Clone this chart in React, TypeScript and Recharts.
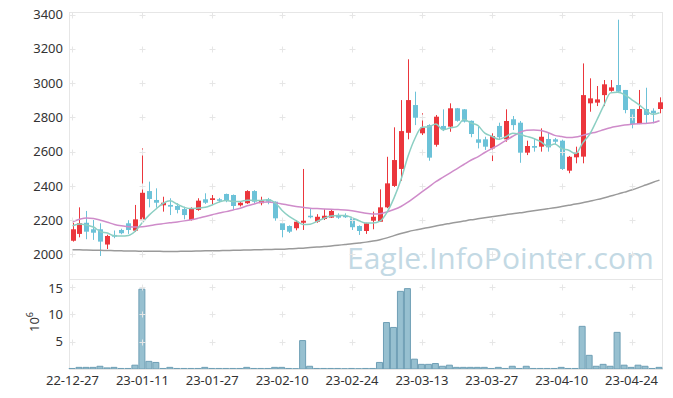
import { ComposedChart, Bar, Line, XAxis, YAxis, ReferenceDot } from 'recharts'

const dates = [
  '22-12-27', '22-12-28', '22-12-29', '23-01-02', '23-01-03', '23-01-04', '23-01-05', '23-01-06', '23-01-09', '23-01-10',
  '23-01-11', '23-01-12', '23-01-13', '23-01-16', '23-01-17', '23-01-18', '23-01-19', '23-01-20', '23-01-25', '23-01-26',
  '23-01-27', '23-01-30', '23-01-31', '23-02-01', '23-02-02', '23-02-03', '23-02-06', '23-02-07', '23-02-08', '23-02-09',
  '23-02-10', '23-02-13', '23-02-14', '23-02-15', '23-02-16', '23-02-17', '23-02-20', '23-02-21', '23-02-22', '23-02-23',
  '23-02-24', '23-02-27', '23-02-28', '23-03-02', '23-03-03', '23-03-06', '23-03-07', '23-03-08', '23-03-09', '23-03-10',
  '23-03-13', '23-03-14', '23-03-15', '23-03-16', '23-03-17', '23-03-20', '23-03-21', '23-03-22', '23-03-23', '23-03-24',
  '23-03-27', '23-03-28', '23-03-29', '23-03-30', '23-03-31', '23-04-03', '23-04-04', '23-04-05', '23-04-06', '23-04-07',
  '23-04-10', '23-04-11', '23-04-12', '23-04-13', '23-04-14', '23-04-17', '23-04-18', '23-04-19', '23-04-20', '23-04-21',
  '23-04-24', '23-04-25', '23-04-26', '23-04-27', '23-04-28',
]

const opens = [
  2080, 2120, 2185, 2147, 2147, 2058, 2114, 2143, 2182, 2139,
  2205, 2370, 2318, 2287, 2289, 2283, 2265, 2201, 2260, 2322,
  2318, 2322, 2353, 2347, 2287, 2299, 2370, 2299, 2322, 2308,
  2182, 2166, 2153, 2185, 2226, 2191, 2207, 2215, 2230, 2226,
  2211, 2166, 2137, 2197, 2191, 2275, 2400, 2499, 2710, 2872,
  2707, 2755, 2640, 2750, 2746, 2853, 2847, 2780, 2672, 2672,
  2619, 2750, 2672, 2789, 2769, 2594, 2633, 2629, 2674, 2672,
  2664, 2489, 2567, 2571, 2882, 2886, 2930, 2955, 2989, 2960,
  2849, 2761, 2849, 2839, 2849,
]
const highs = [
  2185, 2275, 2254, 2201, 2182, 2115, 2140, 2150, 2200, 2289,
  2619, 2425, 2386, 2337, 2328, 2299, 2279, 2275, 2328, 2357,
  2347, 2330, 2355, 2350, 2310, 2375, 2375, 2337, 2330, 2310,
  2201, 2170, 2201, 2499, 2270, 2235, 2264, 2260, 2240, 2240,
  2215, 2170, 2185, 2250, 2380, 2570, 2742, 2901, 3139, 2950,
  2824, 2760, 2814, 2847, 2882, 2855, 2849, 2782, 2746, 2687,
  2707, 2769, 2847, 2808, 2779, 2664, 2678, 2736, 2710, 2680,
  2670, 2575, 2629, 3115, 3028, 2983, 3018, 3018, 3370, 2960,
  2849, 2960, 2973, 2853, 2917,
]
const lows = [
  2075, 2100, 2089, 2085, 1991, 2032, 2095, 2118, 2120, 2131,
  2200, 2275, 2273, 2250, 2230, 2240, 2205, 2198, 2255, 2295,
  2289, 2305, 2305, 2260, 2280, 2295, 2300, 2287, 2293, 2197,
  2100, 2125, 2141, 2143, 2211, 2185, 2201, 2213, 2208, 2213,
  2143, 2114, 2120, 2147, 2191, 2270, 2394, 2430, 2672, 2755,
  2697, 2547, 2629, 2720, 2716, 2775, 2770, 2684, 2619, 2610,
  2545, 2668, 2658, 2726, 2535, 2580, 2600, 2600, 2600, 2645,
  2493, 2474, 2532, 2532, 2833, 2866, 2866, 2950, 2944, 2824,
  2736, 2761, 2765, 2765, 2824,
]
const closes = [
  2147, 2182, 2133, 2127, 2075, 2108, 2104, 2124, 2143, 2205,
  2360, 2324, 2302, 2302, 2279, 2260, 2230, 2270, 2314, 2302,
  2328, 2318, 2314, 2283, 2302, 2370, 2308, 2314, 2308, 2211,
  2143, 2133, 2191, 2197, 2222, 2220, 2226, 2254, 2215, 2222,
  2159, 2137, 2182, 2220, 2275, 2415, 2551, 2720, 2901, 2798,
  2740, 2565, 2804, 2730, 2853, 2780, 2775, 2703, 2652, 2629,
  2691, 2684, 2779, 2755, 2594, 2633, 2623, 2687, 2625, 2658,
  2499, 2570, 2594, 2930, 2911, 2905, 2993, 2975, 2950, 2843,
  2761, 2849, 2814, 2824, 2888,
]

// volume in millions of shares
const volumes = [
  0.1, 0.3, 0.3, 0.3, 0.5, 0.2, 0.3, 0.1, 0.1, 0.7,
  14.6, 1.4, 1.2, 0.1, 0.3, 0.1, 0.1, 0.1, 0.1, 0.3,
  0.1, 0.1, 0.1, 0.1, 0.1, 0.3, 0.1, 0.1, 0.1, 0.3,
  0.3, 0.1, 0.05, 5.2, 0.5, 0.1, 0.1, 0.1, 0.1, 0.05,
  0.1, 0.05, 0.1, 0.1, 1.2, 8.5, 7.6, 14.2, 14.7, 1.8,
  0.85, 0.85, 1.0, 0.5, 0.7, 0.3, 0.3, 0.3, 0.3, 0.3,
  0.1, 0.3, 0.1, 0.5, 0.1, 0.5, 0.1, 0.1, 0.1, 0.1,
  0.3, 0.1, 0.1, 7.8, 2.5, 0.5, 0.85, 0.5, 6.7, 0.7,
  0.3, 0.7, 0.5, 0.1, 0.3,
]

// moving averages
const ma5 = [
  2168, 2178, 2172, 2160, 2133, 2125, 2109, 2108, 2111, 2137,
  2187, 2231, 2267, 2299, 2313, 2293, 2275, 2268, 2271, 2275,
  2289, 2306, 2315, 2309, 2309, 2317, 2315, 2315, 2320, 2302,
  2257, 2222, 2197, 2175, 2177, 2193, 2211, 2224, 2227, 2227,
  2215, 2197, 2183, 2184, 2195, 2246, 2329, 2436, 2572, 2677,
  2742, 2745, 2762, 2727, 2738, 2746, 2788, 2768, 2753, 2708,
  2690, 2672, 2687, 2708, 2701, 2689, 2677, 2658, 2632, 2645,
  2618, 2608, 2589, 2650, 2701, 2782, 2867, 2943, 2947, 2933,
  2904, 2876, 2843, 2818, 2827,
]
const ma20 = [
  2191, 2205, 2213, 2210, 2200, 2188, 2175, 2167, 2162, 2160,
  2162, 2168, 2175, 2180, 2185, 2190, 2196, 2203, 2212, 2222,
  2232, 2242, 2250, 2260, 2270, 2284, 2295, 2305, 2306, 2302,
  2295, 2287, 2280, 2275, 2270, 2268, 2266, 2264, 2262, 2260,
  2255, 2248, 2240, 2236, 2238, 2248, 2262, 2280, 2305, 2335,
  2365, 2395, 2425, 2450, 2475, 2500, 2525, 2550, 2570, 2595,
  2618, 2640, 2665, 2690, 2712, 2725, 2726, 2724, 2712, 2695,
  2688, 2682, 2685, 2695, 2706, 2715, 2728, 2740, 2748, 2755,
  2760, 2763, 2765, 2768, 2780,
]
const ma120 = [
  2028, 2027, 2026, 2025, 2024, 2023, 2022, 2021, 2020, 2020,
  2019, 2019, 2019, 2018, 2018, 2018, 2019, 2019, 2020, 2021,
  2021, 2022, 2023, 2024, 2025, 2026, 2027, 2028, 2029, 2030,
  2031, 2033, 2035, 2037, 2040, 2043, 2046, 2050, 2054, 2058,
  2062, 2067, 2072, 2078, 2086, 2097, 2110, 2122, 2133, 2142,
  2150, 2158, 2166, 2174, 2181, 2188, 2195, 2202, 2208, 2214,
  2220, 2226, 2232, 2238, 2243, 2249, 2255, 2261, 2267, 2273,
  2280, 2287, 2294, 2302, 2311, 2320, 2330, 2341, 2352, 2364,
  2376, 2390, 2405, 2420, 2434,
]

const priceTicks = [2000, 2200, 2400, 2600, 2800, 3000, 3200, 3400]
const volumeTicks = [5, 10, 15]
const dateTicks = dates.filter((_, i) => i % 10 === 0)

const UP = '#eb363c'
const DOWN = '#6cc2d8'
const FONT = '"Noto Sans", sans-serif'

const rows = dates.map((date, i) => ({
  date,
  open: opens[i],
  high: highs[i],
  low: lows[i],
  close: closes[i],
  volume: volumes[i],
  ma5: ma5[i],
  ma20: ma20[i],
  ma120: ma120[i],
}))

const Candle = (props: any) => {
  const { x, y, width, height, payload } = props
  if (!payload) return null
  const { open, close, high, low } = payload
  const color = close >= open ? UP : DOWN
  const h = Math.abs(height)
  const top = Math.min(y, y + height)
  const ratio = h / (high - low || 1)
  const bodyTop = top + (high - Math.max(open, close)) * ratio
  const bodyH = Math.max(1.5, Math.abs(open - close) * ratio)
  const cx = Math.round(x + width / 2) + 0.5
  return (
    <g>
      <line x1={cx} x2={cx} y1={top} y2={top + h} stroke={color} strokeWidth={1} />
      <rect x={cx - 2.5} y={bodyTop} width={5} height={bodyH} fill={color} />
    </g>
  )
}

// faint "+" marks where the grid lines would cross
const Plus = (props: any) => {
  const { cx, cy } = props
  if (cx == null || cy == null) return null
  const px = Math.round(cx) + 0.5
  const py = Math.round(cy) + 0.5
  return (
    <path
      d={`M${px - 3},${py}H${px + 3}M${px},${py - 3}V${py + 3}`}
      stroke="#e6e6e6"
      strokeWidth={1}
      fill="none"
    />
  )
}

const tickStyle = { fontSize: 13, fill: '#333', fontFamily: FONT }

export default function App() {
  return (
    <div style={{ position: 'absolute', left: 0, top: 0, width: 673, height: 398, background: '#fff', overflow: 'hidden' }}>
      {/* panel frames */}
      <div style={{ position: 'absolute', left: 69, top: 12, width: 594, height: 268, border: '1px solid #e6e6e6', boxSizing: 'border-box' }} />
      <div style={{ position: 'absolute', left: 69, top: 279, width: 594, height: 91, border: '1px solid #e6e6e6', boxSizing: 'border-box' }} />
      {/* watermark */}
      <svg width={673} height={398} style={{ position: 'absolute', left: 0, top: 0 }}>
        <text x={347} y={269} fontSize={30} fontFamily='"Open Sans", sans-serif' fill="#c3d9e4">
          Eagle.InfoPointer.com
        </text>
      </svg>

      <div style={{ position: 'absolute', left: 0, top: 0 }}>
        <ComposedChart width={673} height={280} data={rows} margin={{ top: 12, right: 10, left: 0, bottom: 0 }}>
          <XAxis dataKey="date" hide />
          <YAxis
            domain={[1851, 3415]}
            ticks={priceTicks}
            allowDataOverflow
            width={69}
            axisLine={false}
            tickLine={false}
            tickSize={0}
            tickMargin={6}
            tick={tickStyle}
          />
          {dateTicks.map((d) =>
            priceTicks.map((p) => (
              <ReferenceDot key={`${d}-${p}`} x={d} y={p} r={3} shape={Plus} />
            ))
          )}
          <Bar dataKey={(d: any) => [d.low, d.high]} barSize={5} shape={Candle} isAnimationActive={false} />
          <Line type="monotone" dataKey="ma120" stroke="#9a9a9a" strokeWidth={1.5} dot={false} isAnimationActive={false} />
          <Line type="monotone" dataKey="ma20" stroke="#cf8cca" strokeWidth={1.5} dot={false} isAnimationActive={false} />
          <Line type="monotone" dataKey="ma5" stroke="#8ccfc3" strokeWidth={1.5} dot={false} isAnimationActive={false} />
        </ComposedChart>
      </div>

      <div style={{ position: 'absolute', left: 0, top: 280 }}>
        <ComposedChart width={673} height={118} data={rows} margin={{ top: 0, right: 10, left: 0, bottom: 0 }}>
          <XAxis
            dataKey="date"
            ticks={dateTicks}
            interval={0}
            height={29}
            axisLine={false}
            tickLine={false}
            tickSize={0}
            tickMargin={7}
            tick={tickStyle}
          />
          <YAxis
            domain={[0, 16.28]}
            ticks={volumeTicks}
            allowDataOverflow
            width={69}
            axisLine={false}
            tickLine={false}
            tickSize={0}
            tickMargin={6}
            tick={tickStyle}
          />
          {dateTicks.map((d) =>
            volumeTicks.map((v) => (
              <ReferenceDot key={`${d}-${v}`} x={d} y={v} r={3} shape={Plus} />
            ))
          )}
          <Bar dataKey="volume" barSize={6} fill="#97c0d0" stroke="#6f9fb5" strokeWidth={1} isAnimationActive={false} />
        </ComposedChart>
      </div>

      {/* volume unit label */}
      <div
        style={{
          position: 'absolute',
          left: 33,
          top: 322,
          transform: 'translate(-50%, -50%) rotate(-90deg)',
          fontFamily: FONT,
          fontSize: 13,
          color: '#333',
          whiteSpace: 'nowrap',
        }}
      >
        10<sup style={{ fontSize: 9 }}>6</sup>
      </div>
    </div>
  )
}
